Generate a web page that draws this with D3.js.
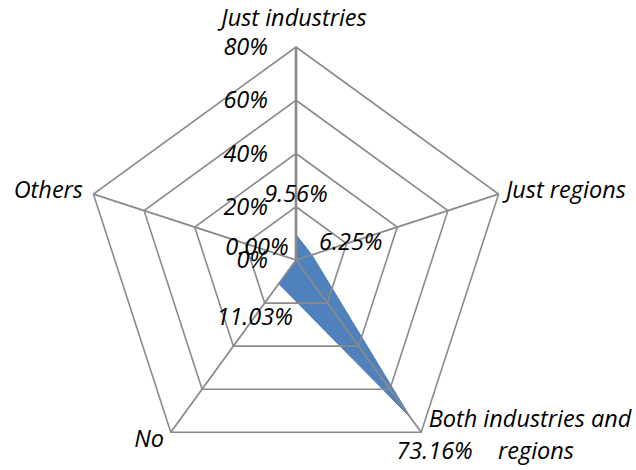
<!DOCTYPE html>
<html>
<head>
<meta charset="utf-8">
<script src="https://cdn.jsdelivr.net/npm/d3@7"></script>
<style>
html,body{margin:0;padding:0;background:#fff;}
svg text{font-family:"Open Sans",sans-serif;font-style:italic;fill:#000;}
</style>
</head>
<body>
<svg id="chart" width="636" height="470"></svg>
<script>
const categories = ["Just industries", "Just regions", "Both industries and regions", "No", "Others"];
const values = [9.56, 6.25, 73.16, 11.03, 0.00];
const valueLabels = ["9.56%", "6.25%", "73.16%", "11.03%", "0.00%"];
const ticks = [0, 20, 40, 60, 80];
const tickLabels = ["0%", "20%", "40%", "60%", "80%"];

const W = 636, H = 470;
const cx = 296, cy = 260, R = 213;
const svg = d3.select("#chart");
const g = svg.append("g").attr("transform", `translate(${cx},${cy})`);

const r = d3.scaleLinear().domain([0, 80]).range([0, R]);
const angle = d3.scaleLinear().domain([0, categories.length]).range([0, 2 * Math.PI]);
const px = (i, v) => r(v) * Math.sin(angle(i));
const py = (i, v) => -r(v) * Math.cos(angle(i));

// data polygon (drawn beneath the grid)
const line = d3.lineRadial()
  .angle((d, i) => angle(i))
  .radius(d => r(d))
  .curve(d3.curveLinearClosed);
g.append("path")
  .attr("d", line(values))
  .attr("fill", "#4F81BD").attr("stroke", "#4F81BD").attr("stroke-width", 1);

const gridColor = "#8a8a8a";
// grid pentagons
ticks.filter(t => t > 0).forEach(t => {
  const pts = categories.map((c, i) => [px(i, t), py(i, t)]);
  g.append("polygon")
    .attr("points", pts.map(p => p.join(",")).join(" "))
    .attr("fill", "none").attr("stroke", gridColor).attr("stroke-width", 1.6);
});
// spokes
categories.forEach((c, i) => {
  g.append("line")
    .attr("x1", 0).attr("y1", 0)
    .attr("x2", px(i, 80)).attr("y2", py(i, 80))
    .attr("stroke", gridColor).attr("stroke-width", i === 0 ? 2.6 : 1.8);
});

const fs = 23.5;
// tick labels
ticks.forEach((t, k) => {
  g.append("text")
    .attr("x", -28).attr("y", -r(t)).attr("dy", "0.34em")
    .attr("text-anchor", "end").attr("font-size", fs)
    .text(tickLabels[k]);
});

// data labels
values.forEach((v, i) => {
  const d = 41;
  const x = px(i, v) + d * Math.sin(angle(i));
  const y = py(i, v) - d * Math.cos(angle(i));
  g.append("text")
    .attr("x", x).attr("y", y).attr("dy", "0.34em")
    .attr("text-anchor", "middle").attr("font-size", fs)
    .text(valueLabels[i]);
});

// category labels
const catPos = [
  {x: -2, y: -234, anchor: "middle", lines: ["Just industries"]},
  {x: 210, y: -62, anchor: "start", lines: ["Just regions"]},
  {x: 234, y: 167, anchor: "middle", lines: ["Both industries and", "regions"], dxs: [0, 6]},
  {x: -132, y: 187, anchor: "end", lines: ["No"]},
  {x: -213, y: -62, anchor: "end", lines: ["Others"]}
];
catPos.forEach((p, i) => {
  const t = g.append("text").attr("text-anchor", p.anchor).attr("font-size", fs);
  p.lines.forEach((ln, k) => {
    t.append("tspan").attr("x", p.x + (p.dxs ? p.dxs[k] : 0)).attr("y", p.y + k * 32).text(ln);
  });
});
</script>
</body>
</html>
